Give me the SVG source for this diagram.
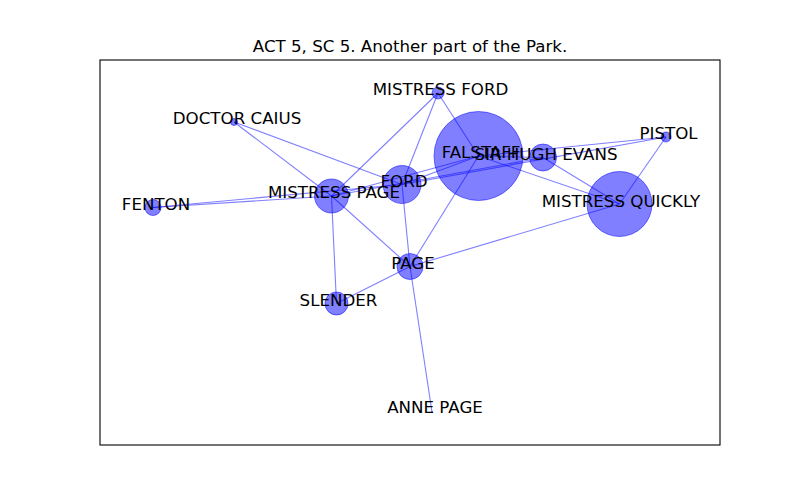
<svg xmlns="http://www.w3.org/2000/svg" width="800" height="500" viewBox="0 0 800 500">
<style>
.edge{stroke:#0000ff;stroke-opacity:0.5;stroke-width:1.1;fill:none}
.node{fill:#0000ff;fill-opacity:0.5;stroke:#0000ff;stroke-opacity:0.5;stroke-width:1}
.lbl{font-family:"DejaVu Sans",sans-serif;font-size:16.67px;fill:#000;text-anchor:middle}
.title{font-family:"DejaVu Sans",sans-serif;font-size:16.67px;fill:#000;text-anchor:middle}
</style>
<rect x="0" y="0" width="800" height="500" fill="#ffffff"/>
<rect x="100" y="60" width="620" height="385" fill="none" stroke="#000" stroke-width="1.1"/>
<text class="title" x="410" y="52">ACT 5, SC 5. Another part of the Park.</text>
<g id="edges">
<line class="edge" x1="234" y1="122" x2="331.5" y2="196"/>
<line class="edge" x1="234" y1="122" x2="402" y2="184.5"/>
<line class="edge" x1="153" y1="207.5" x2="331.5" y2="196"/>
<line class="edge" x1="153" y1="207.5" x2="402" y2="184.5"/>
<line class="edge" x1="438" y1="93" x2="331.5" y2="196"/>
<line class="edge" x1="438" y1="93" x2="402" y2="184.5"/>
<line class="edge" x1="438" y1="93" x2="478.5" y2="156"/>
<line class="edge" x1="331.5" y1="196" x2="478.5" y2="156"/>
<line class="edge" x1="402" y1="184.5" x2="478.5" y2="156"/>
<line class="edge" x1="331.5" y1="196" x2="543" y2="157.5"/>
<line class="edge" x1="478.5" y1="156" x2="543" y2="157.5"/>
<line class="edge" x1="478.5" y1="156" x2="666" y2="137"/>
<line class="edge" x1="402" y1="184.5" x2="666" y2="137"/>
<line class="edge" x1="478.5" y1="156" x2="619.5" y2="204"/>
<line class="edge" x1="543" y1="157.5" x2="619.5" y2="204"/>
<line class="edge" x1="666" y1="137" x2="619.5" y2="204"/>
<line class="edge" x1="619.5" y1="204" x2="410" y2="266.5"/>
<line class="edge" x1="478.5" y1="156" x2="410" y2="266.5"/>
<line class="edge" x1="402" y1="184.5" x2="410" y2="266.5"/>
<line class="edge" x1="331.5" y1="196" x2="410" y2="266.5"/>
<line class="edge" x1="331.5" y1="196" x2="336.5" y2="303.5"/>
<line class="edge" x1="410" y1="266.5" x2="336.5" y2="303.5"/>
<line class="edge" x1="410" y1="266.5" x2="432" y2="412"/>
</g>
<g id="node-mistress-ford"><circle class="node" cx="438" cy="93" r="6"/><text class="lbl" x="440.5" y="95">MISTRESS FORD</text></g>
<g id="node-doctor-caius"><circle class="node" cx="234" cy="122" r="3.5"/><text class="lbl" x="237" y="124">DOCTOR CAIUS</text></g>
<g id="node-falstaff"><circle class="node" cx="478.5" cy="156" r="44.5"/><text class="lbl" x="481" y="158">FALSTAFF</text></g>
<g id="node-sir-hugh-evans"><circle class="node" cx="543" cy="157.5" r="13.5"/><text class="lbl" x="546" y="160">SIR HUGH EVANS</text></g>
<g id="node-pistol"><circle class="node" cx="666" cy="137" r="5"/><text class="lbl" x="668.5" y="139">PISTOL</text></g>
<g id="node-mistress-quickly"><circle class="node" cx="619.5" cy="204" r="32.5"/><text class="lbl" x="621" y="206.5">MISTRESS QUICKLY</text></g>
<g id="node-ford"><circle class="node" cx="402" cy="184.5" r="19"/><text class="lbl" x="404" y="186.7">FORD</text></g>
<g id="node-mistress-page"><circle class="node" cx="331.5" cy="196" r="17"/><text class="lbl" x="334" y="198">MISTRESS PAGE</text></g>
<g id="node-fenton"><circle class="node" cx="153" cy="207.5" r="8"/><text class="lbl" x="156" y="209.5">FENTON</text></g>
<g id="node-page"><circle class="node" cx="410" cy="266.5" r="13"/><text class="lbl" x="413" y="268.5">PAGE</text></g>
<g id="node-slender"><circle class="node" cx="336.5" cy="303.5" r="11.5"/><text class="lbl" x="338.5" y="305.7">SLENDER</text></g>
<g id="node-anne-page"><circle class="node" cx="432" cy="412" r="0.5"/><text class="lbl" x="435" y="412.7">ANNE PAGE</text></g>
</svg>
